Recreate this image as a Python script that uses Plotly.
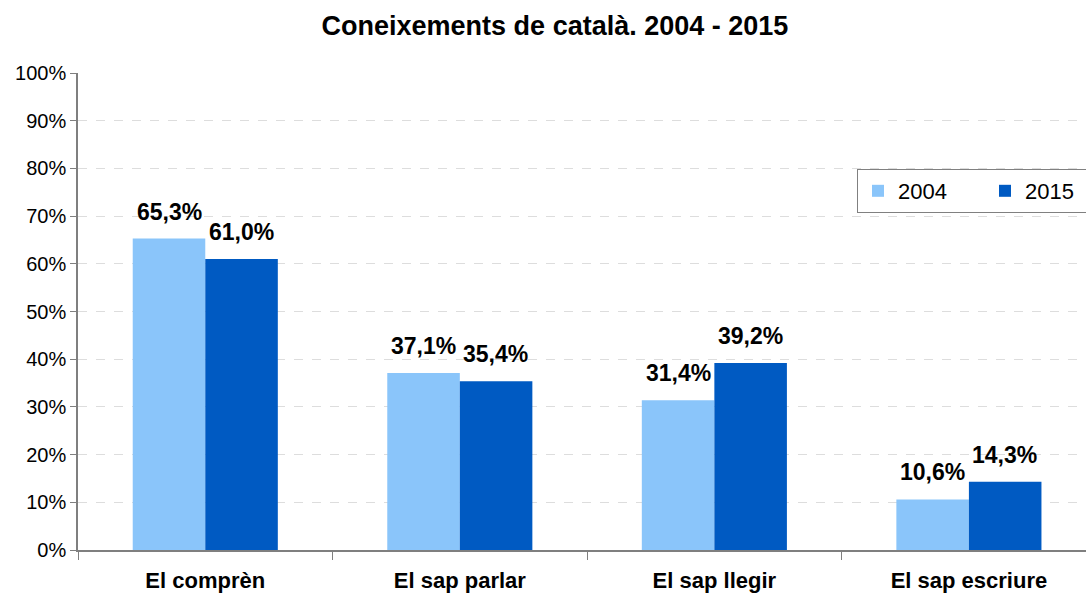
import plotly.graph_objects as go

categories = ["El comprèn", "El sap parlar", "El sap llegir", "El sap escriure"]
series_names = ["2004", "2015"]
values_2004 = [65.3, 37.1, 31.4, 10.6]
values_2015 = [61.0, 35.4, 39.2, 14.3]
colors = ["#8AC5FA", "#005AC2"]
ytick_vals = [0, 10, 20, 30, 40, 50, 60, 70, 80, 90, 100]
ytick_text = [f"{v}%" for v in ytick_vals]

FONT = "Liberation Sans, Arial, sans-serif"

def lab(v):
    return f"{v:.1f}%".replace(".", ",")

fig = go.Figure()
for name, vals, col in zip(series_names, [values_2004, values_2015], colors):
    fig.add_trace(go.Bar(
        x=categories, y=vals, name=name,
        marker=dict(color=col, line=dict(width=0)),
    ))

# data labels as annotations (offset to each bar in the group)
for vals, shift in [(values_2004, -36), (values_2015, 36)]:
    for c, v in zip(categories, vals):
        fig.add_annotation(x=c, y=v, xref="x", yref="y", text=f"<b>{lab(v)}</b>",
                           showarrow=False, xshift=shift, yshift=12,
                           yanchor="bottom", xanchor="center",
                           font=dict(family=FONT, size=23, color="#000000"))

fig.update_layout(
    width=1086, height=594,
    margin=dict(l=78, r=0, t=73, b=44, autoexpand=False),
    paper_bgcolor="white", plot_bgcolor="white",
    barmode="group", bargap=0.43, bargroupgap=0,
    title=dict(text="<b>Coneixements de català. 2004 - 2015</b>",
               x=0.511, xref="container", xanchor="center",
               y=1 - 26/594, yref="container", yanchor="middle",
               font=dict(family=FONT, size=27, color="#000000")),
    font=dict(family=FONT, color="#000000"),
    legend=dict(orientation="h", x=(857-78)/1008, xanchor="left",
                y=(550-169)/477, yanchor="top",
                bordercolor="#808080", borderwidth=1, bgcolor="white",
                font=dict(family=FONT, size=22, color="#000000"),
                itemwidth=30, entrywidth=82, entrywidthmode="pixels",
                traceorder="normal"),
    showlegend=True,
)
fig.update_xaxes(
    range=[-0.5, 3.46], showgrid=False, automargin=False,
    showline=True, linecolor="#7f7f7f", linewidth=1.5,
    ticks="outside", tickson="boundaries", ticklen=8, tickcolor="#7f7f7f",
    tickfont=dict(family=FONT, size=22, color="#000000", weight="bold"),
    ticklabelstandoff=10,
)
fig.update_yaxes(
    range=[0, 100], tickvals=ytick_vals, ticktext=ytick_text, automargin=False,
    showgrid=True, gridcolor="#dddddd", griddash="dash", gridwidth=1,
    showline=True, linecolor="#7f7f7f", linewidth=1.5,
    ticks="outside", ticklen=6, tickcolor="#7f7f7f",
    tickfont=dict(family=FONT, size=20, color="#000000"),
    zeroline=False,
)

fig.write_html("out.html", config={"displayModeBar": False},
               post_script="document.body.style.margin='0';document.body.style.overflow='hidden';")
